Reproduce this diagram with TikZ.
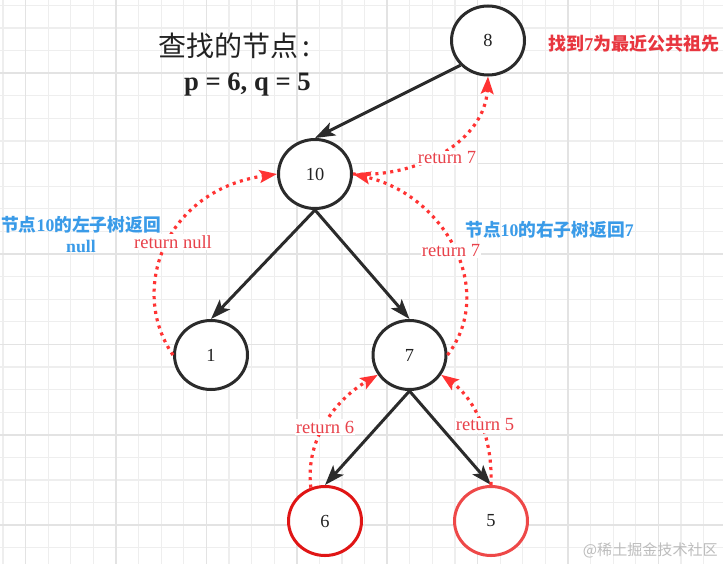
\documentclass[tikz,border=0pt]{standalone}
\usepackage{fontspec}
\setmainfont{Liberation Serif}
\newfontfamily\cjk{Noto Sans CJK SC}
\usetikzlibrary{arrows.meta,shapes.geometric}
\definecolor{gridminor}{HTML}{EEEEEE}
\definecolor{gridmajor}{HTML}{E3E3E3}
\definecolor{nodeblack}{HTML}{2B2B2B}
\definecolor{textdark}{HTML}{222222}
\definecolor{redline}{HTML}{FF3333}
\definecolor{redtext}{HTML}{E8414A}
\definecolor{redbold}{HTML}{E8363F}
\definecolor{redsix}{HTML}{E01515}
\definecolor{redfive}{HTML}{EE4848}
\definecolor{bluetext}{HTML}{3A9BE8}
\definecolor{wmgrey}{HTML}{BDBDBD}
\newcommand{\latn}[1]{{\rmfamily\bfseries #1}}
\begin{document}
\begin{tikzpicture}[x=0.75pt,y=-0.75pt,
  treenode/.style={ellipse, draw=nodeblack, line width=2.25pt, fill=white,
    minimum width=54.75pt, minimum height=51.75pt, inner sep=0pt,
    font=\fontsize{13.8pt}{15pt}\selectfont, text=textdark},
  edge/.style={draw=nodeblack, line width=2.25pt,
    -{Stealth[length=15pt,width=10.5pt,inset=3.5pt]}},
  retpath/.style={draw=redline, line width=2.4pt, dash pattern=on 2.3pt off 3.3pt,
    -{Stealth[length=13pt,width=9.5pt,inset=2.5pt,fill=redline]}},
  retlabel/.style={fill=white, inner sep=1pt, text=redtext,
    font=\fontsize{13.9pt}{16pt}\selectfont},
  bluelabel/.style={text=bluetext, inner sep=0pt,
    font=\cjk\bfseries\fontsize{13.3pt}{15.75pt}\selectfont},
]
\useasboundingbox (0,0) rectangle (723,564);
\fill[white] (0,0) rectangle (723,564);
% grid
\foreach \k in {0,...,31} {
  \draw[gridminor, line width=0.8pt] ({3+22.6*\k},0) -- ({3+22.6*\k},564);
}
\foreach \k in {0,...,24} {
  \draw[gridminor, line width=0.8pt] (0,{5.4+22.6*\k}) -- (723,{5.4+22.6*\k});
}
\foreach \k in {0,...,7} {
  \draw[gridmajor, line width=1.1pt] ({25.6+90.4*\k},0) -- ({25.6+90.4*\k},564);
}
\foreach \k in {0,...,5} {
  \draw[gridmajor, line width=1.1pt] (0,{73.2+90.4*\k}) -- (723,{73.2+90.4*\k});
}

% nodes
\node[treenode] (n8) at (488,40.5) {8};
\node[treenode] (n10) at (315,174) {10};
\node[treenode] (n1) at (211,355) {1};
\node[treenode] (n7) at (409.5,355) {7};
\node[treenode, draw=redsix] (n6) at (325,521) {6};
\node[treenode, draw=redfive] (n5) at (491,521) {5};

% tree edges
\draw[edge] (n8.222) -- (n10.north);
\draw[edge] (n10.south) -- (n1.north);
\draw[edge] (n10.south) -- (n7.north);
\draw[edge] (n7.south) -- (n6.north);
\draw[edge] (n7.south) -- (n5.north);

% return paths
\draw[retpath] (n10.east) .. controls (420,178) and (485,140) .. (n8.south);
\draw[retpath] (n1.west) .. controls (128,290) and (165,190) .. (n10.west);
\draw[retpath] (n7.east) .. controls (497,290) and (445,195) .. (n10.east);
\draw[retpath] (n6.113) .. controls (305,440) and (335,400) .. (n7.212);
\draw[retpath] (n5.north) .. controls (493,430) and (470,395) .. (n7.328);

% return labels
\node[retlabel] (r1) at (173,242) {return null};
\node[retlabel] (r7a) at (451,251) {return 7};
\node[retlabel] (r7b) at (447,158) {return 7};
\node[retlabel] (r6) at (325,427) {return 6};
\node[retlabel] (r5) at (485,425) {return 5};

% titles and notes
\node[anchor=east, inner sep=0pt, text=textdark,
  font=\cjk\fontsize{21pt}{24pt}\selectfont] (t1) at (311,46) {查找的节点\,:};
\node[anchor=east, inner sep=0pt, text=textdark,
  font=\bfseries\fontsize{20pt}{24pt}\selectfont] (t2) at (311,84.5) {p = 6, q = 5};
\node[anchor=west, inner sep=0pt, text=redbold,
  font=\cjk\bfseries\fontsize{13.5pt}{16pt}\selectfont] (found) at (548,44) {找到\latn{7}为最近公共祖先};
\node[bluelabel, align=center] (leftnote) at (81,235) {节点\latn{10}的左子树返回\\\latn{null}};
\node[bluelabel, anchor=west] (rightnote) at (465,230) {节点\latn{10}的右子树返回\latn{7}};
\node[anchor=east, inner sep=0pt, text=wmgrey,
  font=\cjk\fontsize{11.3pt}{13pt}\selectfont] (wm) at (718,550) {@稀土掘金技术社区};
\end{tikzpicture}
\end{document}
